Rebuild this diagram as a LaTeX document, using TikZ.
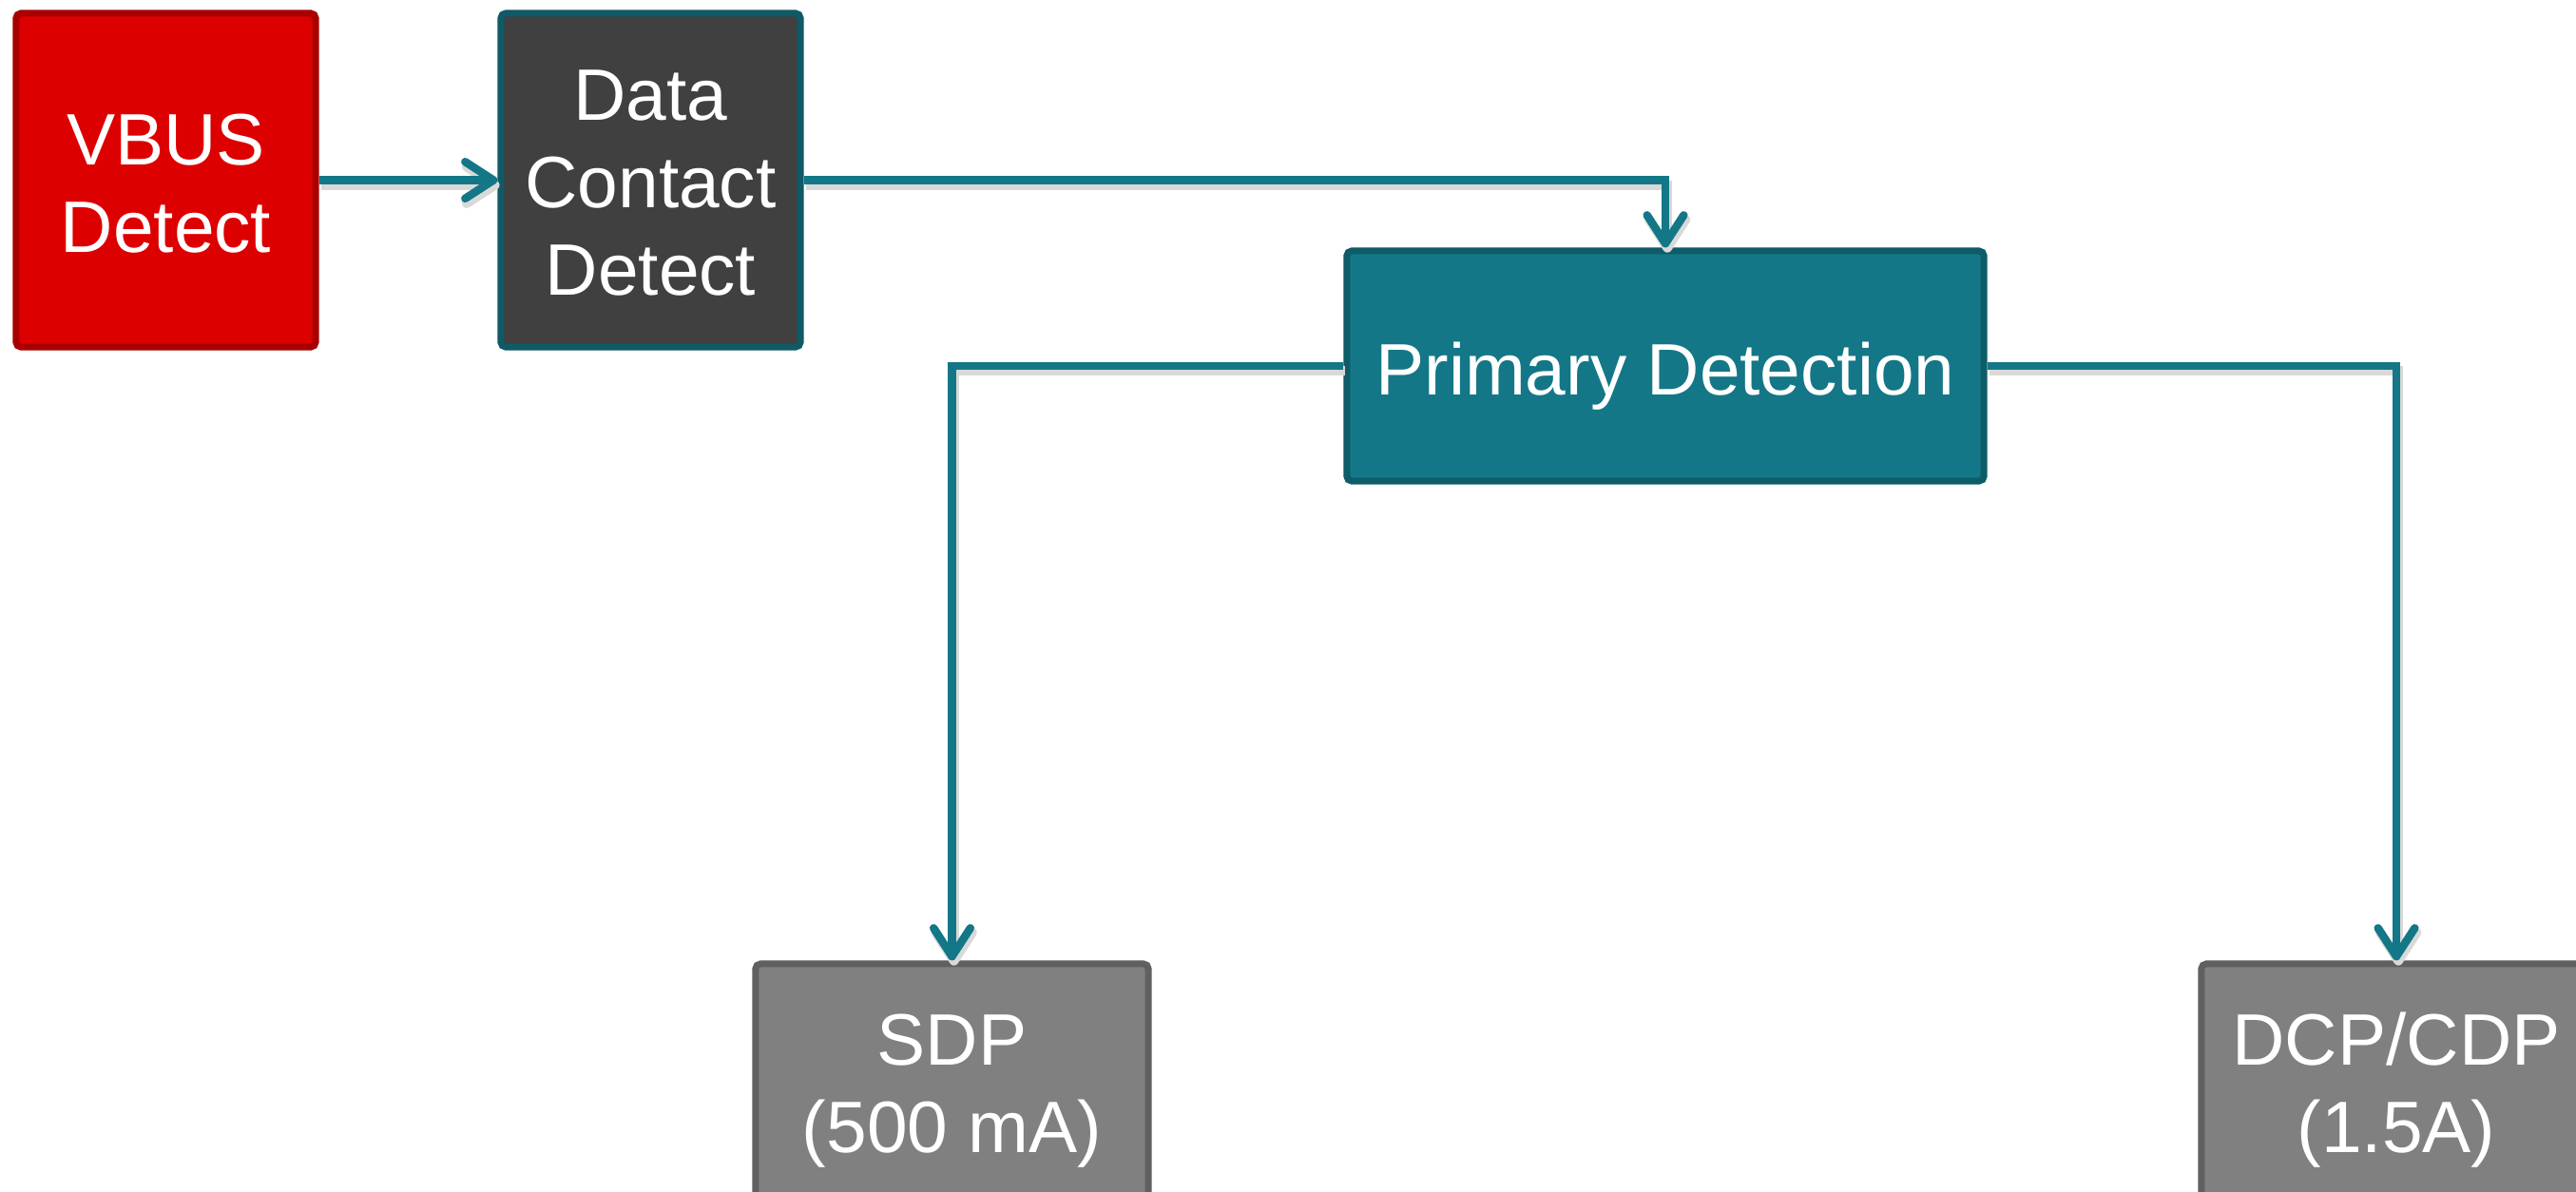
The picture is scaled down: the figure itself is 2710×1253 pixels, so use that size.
\documentclass[tikz,border=0pt]{standalone}
\usepackage{fontspec}
\setmainfont{Liberation Sans}
\usetikzlibrary{arrows.meta}
\definecolor{vbusred}{HTML}{DD0000}
\definecolor{vbusborder}{HTML}{A80000}
\definecolor{dcdfill}{HTML}{404040}
\definecolor{dcdborder}{HTML}{0F5A66}
\definecolor{pdfill}{HTML}{137787}
\definecolor{pdborder}{HTML}{0D5C68}
\definecolor{outfill}{HTML}{808080}
\definecolor{outborder}{HTML}{606060}
\definecolor{linkteal}{HTML}{137787}
\newcommand\boxtext[2]{\raisebox{-#1}[\height][\depth]{\begin{tabular}{@{}c@{}}#2\end{tabular}}}
\begin{document}
\begin{tikzpicture}[x=0.01cm,y=-0.01cm,
  blk/.style={draw, line width=2pt, rounded corners=1.5pt, text=white, align=center,
    font=\fontsize{21.8}{26.2}\selectfont, inner sep=0pt},
  conn/.style={draw=linkteal, line width=2.4pt,
    -{Straight Barb[round,length=8.5pt,width=11pt]},
    preaction={draw=black!15, line width=2.8pt, transform canvas={xshift=0.6pt,yshift=-1.5pt}}}]
\useasboundingbox (0,0) rectangle (2710,1253);
\node[blk, fill=vbusred, draw=vbusborder, minimum width=3.15cm, minimum height=3.51cm] (vbus) at (174.5,189.5) {\boxtext{3.2pt}{VBUS\\Detect}};
\node[blk, fill=dcdfill, draw=dcdborder, minimum width=3.15cm, minimum height=3.51cm] (dcd) at (684.5,189.5) {\boxtext{3.1pt}{Data\\Contact\\Detect}};
\node[blk, fill=pdfill, draw=pdborder, minimum width=6.70cm, minimum height=2.42cm] (pd) at (1752,385) {\boxtext{3.4pt}{Primary Detection}};
\node[blk, fill=outfill, draw=outborder, minimum width=4.13cm, minimum height=2.62cm] (sdp) at (1001.5,1145) {\boxtext{0.8pt}{SDP\\(500 mA)}};
\node[blk, fill=outfill, draw=outborder, minimum width=4.10cm, minimum height=2.62cm] (dcp) at (2521,1145) {\boxtext{0.8pt}{DCP/CDP\\(1.5A)}};
\draw[conn] (vbus) -- (dcd);
\draw[conn] (dcd.east) -| (pd.north);
\draw[conn] (pd.west) -| (sdp.north);
\draw[conn] (pd.east) -| (dcp.north);
\end{tikzpicture}
\end{document}
